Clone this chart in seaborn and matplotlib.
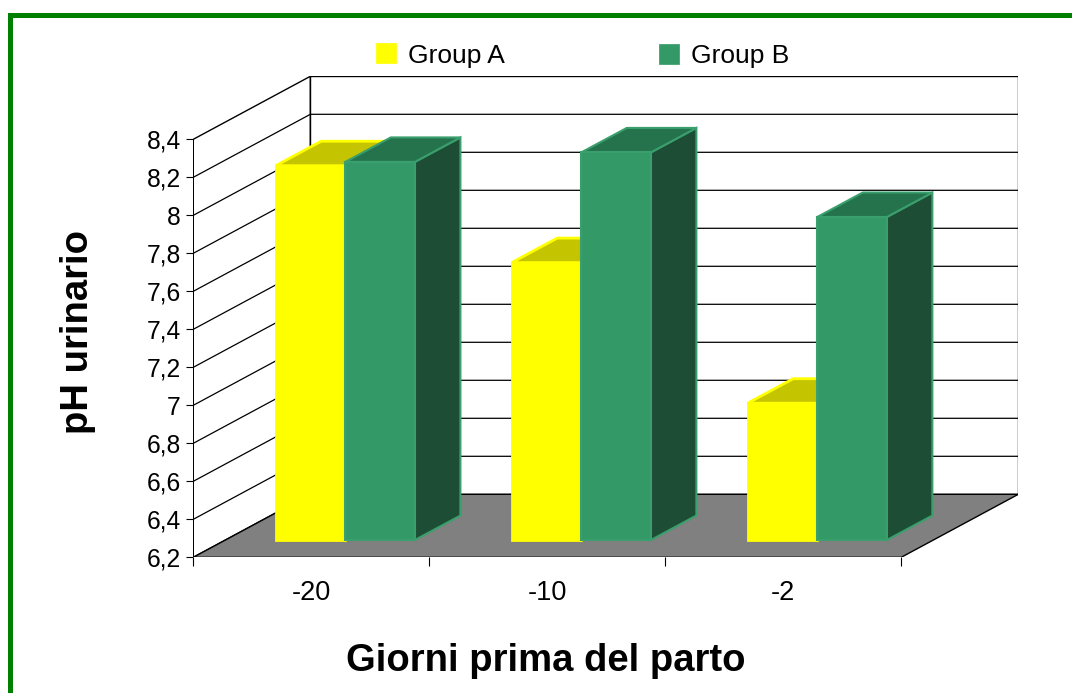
import matplotlib
matplotlib.use("Agg")
import matplotlib.pyplot as plt
from matplotlib.patches import Polygon, Rectangle
from matplotlib.lines import Line2D
from matplotlib.colors import to_hex
import pandas as pd
import seaborn as sns

# ---- data ----
days = ["-20", "-10", "-2"]
groups = ["Group A", "Group B"]
ph_group_a = [8.17, 7.66, 6.92]
ph_group_b = [8.19, 8.24, 7.90]
y_ticks = [6.2, 6.4, 6.6, 6.8, 7.0, 7.2, 7.4, 7.6, 7.8, 8.0, 8.2, 8.4]
y_tick_labels = ["6,2", "6,4", "6,6", "6,8", "7", "7,2", "7,4", "7,6",
                 "7,8", "8", "8,2", "8,4"]

# ---- styling ----
front_colors = {"Group A": "#FFFF00", "Group B": "#339966"}
top_colors = {"Group A": "#C4C400", "Group B": "#24734D"}
side_colors = {"Group A": "#A8A800", "Group B": "#1E4D35"}
edge_colors = {"Group A": "#FFFF00", "Group B": "#3A9F6C"}
bar_zorder = {"Group A": 3, "Group B": 4}

Y0, Y1 = 6.2, 8.4            # value range of the walls
DX, DY = 0.496, 0.3316       # oblique depth offset (category units, pH units)
Z0, Z1 = 0.275, 0.663        # front / back depth of the bars (0 = front, 1 = back)
BAR_SHIFT = 0.008
X_LEFT, X_RIGHT = -0.5, 2.5


def proj(x, y, z):
    """Oblique projection of a point at depth z onto the front plane."""
    return (x + z * DX, y + z * DY)


sns.set_theme(style="white")
plt.rcParams["font.family"] = ["Liberation Sans", "DejaVu Sans"]

W, H = 1072, 693
fig = plt.figure(figsize=(W / 100, H / 100), dpi=100)
fig.patch.set_facecolor("white")
ax = fig.add_axes([193.3 / W, (H - 557.3) / H, 825 / W, 481 / H])

df = pd.DataFrame({
    "giorno": days * 2,
    "gruppo": [groups[0]] * len(days) + [groups[1]] * len(days),
    "pH": ph_group_a + ph_group_b,
})

sns.barplot(data=df, x="giorno", y="pH", hue="gruppo", order=days,
            hue_order=groups, palette=[front_colors[g] for g in groups],
            width=0.59, saturation=1, errorbar=None, legend=False, ax=ax)

# ---- walls and floor ----
left_wall = Polygon([proj(X_LEFT, Y0, 0), proj(X_LEFT, Y1, 0),
                     proj(X_LEFT, Y1, 1), proj(X_LEFT, Y0, 1)],
                    closed=True, facecolor="white", edgecolor="black",
                    linewidth=1.0, zorder=0.5)
back_wall = Polygon([proj(X_LEFT, Y0, 1), proj(X_RIGHT, Y0, 1),
                     proj(X_RIGHT, Y1, 1), proj(X_LEFT, Y1, 1)],
                    closed=True, facecolor="white", edgecolor="black",
                    linewidth=1.0, zorder=0.5)
ax.add_patch(left_wall)
ax.add_patch(back_wall)

for t in y_ticks[1:-1]:
    pts = [proj(X_LEFT, t, 0), proj(X_LEFT, t, 1), proj(X_RIGHT, t, 1)]
    ax.add_line(Line2D([p[0] for p in pts], [p[1] for p in pts],
                       color="black", linewidth=0.9, zorder=0.8))

floor = Polygon([proj(X_LEFT, Y0, 0), proj(X_RIGHT, Y0, 0),
                 proj(X_RIGHT, Y0, 1), proj(X_LEFT, Y0, 1)],
                closed=True, facecolor="#808080", edgecolor="black",
                linewidth=1.0, zorder=1)
ax.add_patch(floor)

# ---- turn the flat bars into boxes ----
color_to_group = {to_hex(front_colors[g]).lower(): g for g in groups}
for p in list(ax.patches):
    if p in (left_wall, back_wall, floor):
        continue
    g = color_to_group.get(to_hex(p.get_facecolor()).lower())
    if g is None:
        continue
    x0 = p.get_x() + BAR_SHIFT
    w = p.get_width()
    v = p.get_height()
    x1 = x0 + w
    z = bar_zorder[g]
    lw = 2.0 if g == "Group A" else 1.5
    p.set_x(x0 + Z0 * DX)
    p.set_y(Y0 + Z0 * DY)
    p.set_height(v - Y0)
    p.set_edgecolor(edge_colors[g])
    p.set_linewidth(lw)
    p.set_zorder(z + 0.2)
    side = Polygon([proj(x1, Y0, Z0), proj(x1, v, Z0),
                    proj(x1, v, Z1), proj(x1, Y0, Z1)], closed=True,
                   facecolor=side_colors[g], edgecolor=edge_colors[g],
                   linewidth=lw, joinstyle="miter", zorder=z)
    top = Polygon([proj(x0, v, Z0), proj(x1, v, Z0),
                   proj(x1, v, Z1), proj(x0, v, Z1)], closed=True,
                  facecolor=top_colors[g], edgecolor=edge_colors[g],
                  linewidth=lw, joinstyle="miter", zorder=z + 0.1)
    ax.add_patch(side)
    ax.add_patch(top)

# ---- axes ----
ax.set_xlim(X_LEFT, X_RIGHT + DX)
ax.set_ylim(Y0, Y1 + DY)
for s in ax.spines.values():
    s.set_visible(False)
ax.set_facecolor("none")

ax.set_yticks(y_ticks, y_tick_labels)
ax.tick_params(axis="y", left=True, length=5, width=0.8, color="black",
               direction="out", pad=4, labelsize=17.7, labelcolor="black")

ax.set_xticks([-0.5, 0.5, 1.5, 2.5], ["", "", "", ""])
ax.set_xticks([0, 1, 2], days, minor=True)
ax.tick_params(axis="x", which="major", bottom=True, length=6.5, width=0.8,
               color="black", direction="out")
ax.tick_params(axis="x", which="minor", bottom=True, length=0, pad=16.5,
               labelsize=19.5, labelcolor="black")

ax.set_xlabel("Giorni prima del parto", fontsize=27.5, fontweight="bold",
              color="black", ha="center", va="center")
ax.set_ylabel("pH urinario", fontsize=27.5, fontweight="bold",
              color="black", ha="center", va="center")
ax.xaxis.set_label_coords((546 - 193.3) / 825, (557.3 - 661) / 481)
ax.yaxis.set_label_coords((78 - 193.3) / 825, (557.3 - 332) / 481)

# ---- legend ----
legend_items = [("Group A", 376, 42.5, 408.3), ("Group B", 659, 43.5, 690.7)]
for g, rx, ry, tx in legend_items:
    fig.add_artist(Rectangle((rx / W, 1 - (ry + 20) / H), 19.5 / W, 19.5 / H,
                             transform=fig.transFigure,
                             facecolor=front_colors[g],
                             edgecolor=front_colors[g], linewidth=0.5))
    fig.text(tx / W, 1 - 62.7 / H, g, fontsize=19, color="black",
             ha="left", va="baseline")

# ---- chart frame ----
fx, fy = 9.5 / W, 1 - 14.8 / H
fig.add_artist(Line2D([fx, fx, 1.02], [-0.02, fy, fy],
                      transform=fig.transFigure, color="#008000",
                      linewidth=3.6, solid_joinstyle="miter"))

fig.savefig("out.png", dpi=100)
